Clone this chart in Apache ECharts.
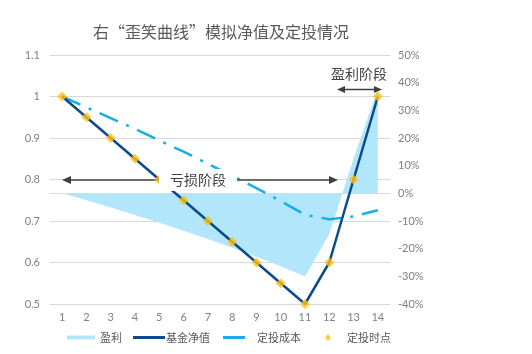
<!DOCTYPE html>
<html>
<head>
<meta charset="utf-8">
<script src="https://cdn.jsdelivr.net/npm/echarts@6/dist/echarts.min.js"></script>
<style>
  html, body { margin: 0; padding: 0; background: #fff; }
  #main { width: 532px; height: 354px; }
</style>
</head>
<body>
<div id="main"></div>
<script>
// 期数
var periods = ['1', '2', '3', '4', '5', '6', '7', '8', '9', '10', '11', '12', '13', '14'];
// 基金净值
var navValues = [1, 0.95, 0.9, 0.85, 0.8, 0.75, 0.7, 0.65, 0.6, 0.55, 0.5, 0.6, 0.8, 1.0];
// 定投成本
var costValues = [1, 0.974, 0.948, 0.922, 0.894, 0.867, 0.838, 0.809, 0.779, 0.748, 0.715, 0.704, 0.711, 0.726];
// 盈利 (%)
var profitValues = [0, -2.5, -5.1, -7.8, -10.6, -13.5, -16.5, -19.6, -22.9, -26.4, -30.1, -14.8, 12.6, 37.8];

var font = "Lato, 'Noto Sans CJK SC', sans-serif";
var cjk = "'Noto Sans CJK SC', sans-serif";
var textGray = '#595959';
var arrowColor = '#404040';

var cArea = '#b2e6fb';
var cNav = '#0d4a8c';
var cCost = '#1aafe4';
var cDot = '#fdc113';

var myChart = echarts.init(document.getElementById('main'));

function legendItem(name, left, icon, w, h, color, padLeft) {
    return {
        left: left,
        top: 332,
        padding: 0,
        itemWidth: w,
        itemHeight: h,
        itemGap: 0,
        data: [{ name: name, icon: icon, itemStyle: { color: color } }],
        textStyle: { color: textGray, fontSize: 11, fontFamily: cjk, padding: [0, 0, 0, padLeft] }
    };
}

var option = {
    animation: false,
    title: {
        text: '右“歪笑曲线”模拟净值及定投情况',
        left: 93,
        top: 24,
        padding: 0,
        textStyle: { color: textGray, fontSize: 16, fontWeight: 'normal', fontFamily: cjk }
    },
    legend: [
        legendItem('盈利', 67, 'rect', 28, 4, cArea, 0),
        legendItem('基金净值', 133, 'rect', 32, 3, cNav, -4),
        legendItem('定投成本', 223, 'rect', 22, 3, cCost, 7),
        legendItem('定投时点', 325, 'diamond', 6, 7, cDot, 11)
    ],
    grid: { left: 50, right: 142, top: 55, bottom: 50 },
    xAxis: [{
        type: 'category',
        data: periods,
        axisTick: { show: false },
        axisLine: { lineStyle: { color: '#d9d9d9', width: 1 } },
        axisLabel: { color: '#7f7f7f', fontSize: 11, fontFamily: font, margin: 8 }
    }],
    yAxis: [{
        type: 'value',
        min: 0.5,
        max: 1.1,
        interval: 0.1,
        axisLine: { show: false },
        axisTick: { show: false },
        splitLine: { lineStyle: { color: '#d9d9d9', width: 1 } },
        axisLabel: { color: '#7f7f7f', fontSize: 11, fontFamily: font, margin: 10 }
    }, {
        type: 'value',
        min: -40,
        max: 50,
        interval: 10,
        axisLine: { show: false },
        axisTick: { show: false },
        splitLine: { show: false },
        axisLabel: { color: '#7f7f7f', fontSize: 11, fontFamily: font, margin: 8, formatter: '{value}%' }
    }],
    series: [{
        name: '盈利',
        type: 'line',
        yAxisIndex: 1,
        data: profitValues,
        symbol: 'none',
        itemStyle: { color: cArea },
        lineStyle: { width: 0, opacity: 0 },
        areaStyle: { color: cArea, opacity: 1 },
        z: 1
    }, {
        name: '定投成本',
        type: 'line',
        data: costValues,
        symbol: 'none',
        itemStyle: { color: cCost },
        lineStyle: { color: cCost, width: 2.5, type: [20, 9, 3, 9] },
        z: 3
    }, {
        name: '基金净值',
        type: 'line',
        data: navValues,
        symbol: 'none',
        itemStyle: { color: cNav },
        lineStyle: { color: cNav, width: 2.5 },
        z: 4
    }, {
        name: '定投时点',
        type: 'scatter',
        data: navValues,
        symbol: 'diamond',
        symbolSize: 10,
        itemStyle: { color: cDot },
        z: 6
    }],
    graphic: [
        // 亏损阶段
        { type: 'line', z: 5, shape: { x1: 68, y1: 180, x2: 331, y2: 180 }, style: { stroke: arrowColor, lineWidth: 1.5 } },
        { type: 'polygon', z: 5, shape: { points: [[62, 180], [71, 176], [71, 184]] }, style: { fill: arrowColor } },
        { type: 'polygon', z: 5, shape: { points: [[338, 180], [329, 176], [329, 184]] }, style: { fill: arrowColor } },
        {
            type: 'text', z: 7, x: 198, y: 180,
            style: {
                text: '亏损阶段', fill: arrowColor, font: '14px ' + cjk,
                align: 'center', verticalAlign: 'middle',
                backgroundColor: '#fff', padding: [4, 11]
            }
        },
        // 盈利阶段
        { type: 'line', z: 5, shape: { x1: 343, y1: 89.5, x2: 376, y2: 89.5 }, style: { stroke: arrowColor, lineWidth: 1.5 } },
        { type: 'polygon', z: 5, shape: { points: [[337, 89.5], [345, 86], [345, 93]] }, style: { fill: arrowColor } },
        { type: 'polygon', z: 5, shape: { points: [[382, 89.5], [374, 86], [374, 93]] }, style: { fill: arrowColor } },
        {
            type: 'text', z: 7, x: 359, y: 74,
            style: {
                text: '盈利阶段', fill: arrowColor, font: '14px ' + cjk,
                align: 'center', verticalAlign: 'middle'
            }
        }
    ]
};

myChart.setOption(option);
</script>
</body>
</html>
